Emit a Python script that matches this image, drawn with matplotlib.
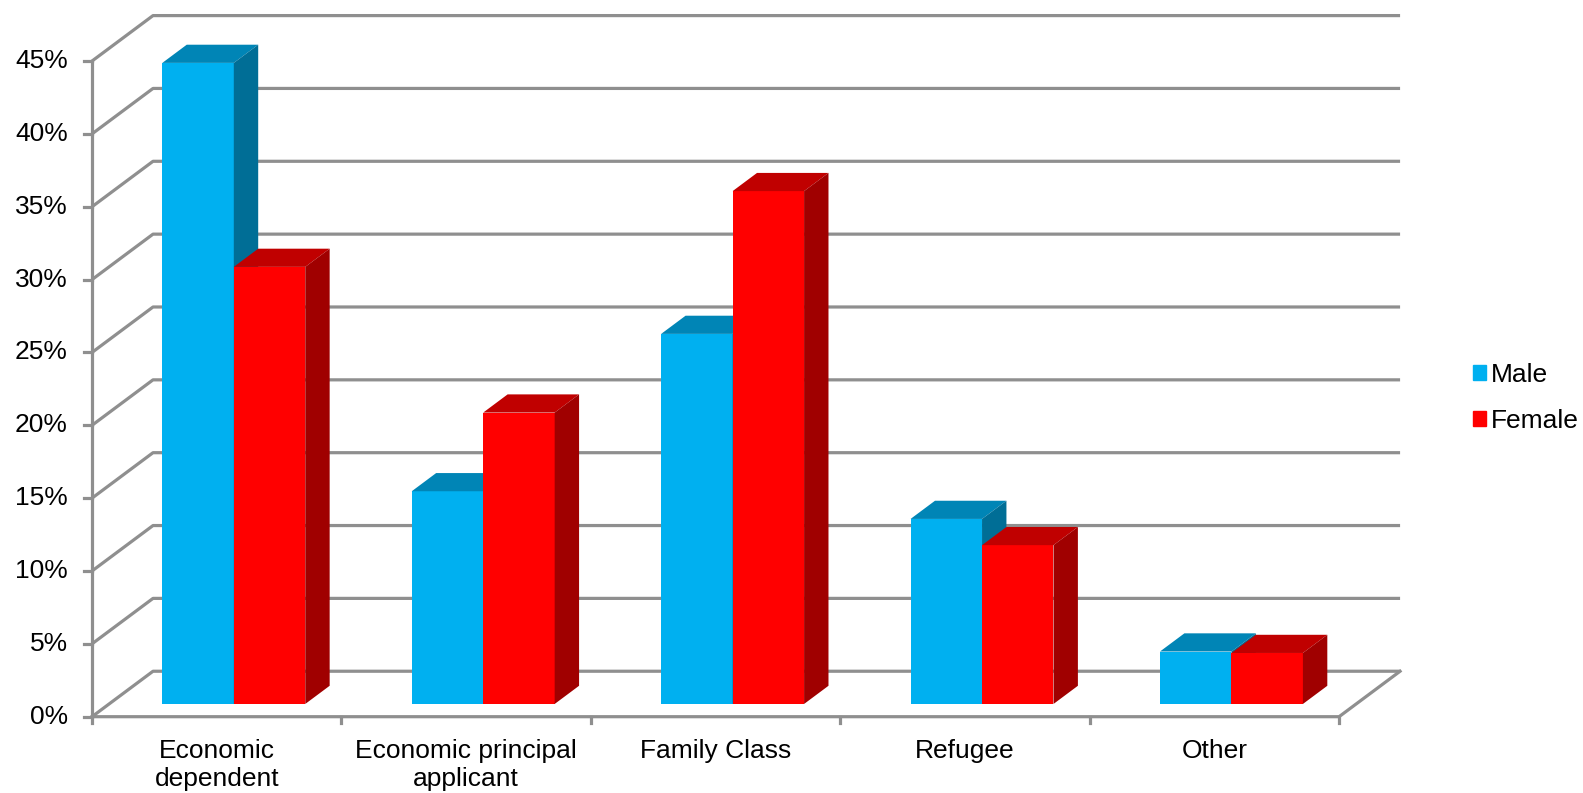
import numpy as np
import matplotlib.pyplot as plt
from matplotlib.patches import Polygon, Patch

plt.rcParams['font.family'] = ['Liberation Sans', 'DejaVu Sans']

categories = ["Economic\ndependent", "Economic principal\napplicant", "Family Class", "Refugee", "Other"]
male = [44.0, 14.6, 25.4, 12.7, 3.6]
female = [30.0, 20.0, 35.2, 10.9, 3.5]
yticks = [0, 5, 10, 15, 20, 25, 30, 35, 40, 45]

# colours: front, top, side
blue = ["#00b0f0", "#0085b6", "#006e96"]
red = ["#ff0000", "#c00000", "#a00000"]
grid_c = "#8f8f8f"

# fake 3d: wall depth offset in data units
DX = 0.2446
DY = 3.12
f0, f1 = 0.28, 0.68   # bar depth (fraction of wall depth)
w = 0.2865
fs = 19

fig = plt.figure(figsize=(15.83, 7.93), dpi=100)
ax = fig.add_axes([0, 0, 1, 1])
ax.set_xlim(-0.3689, 5.978)
ax.set_ylim(-5.237, 49.19)
ax.axis("off")

# walls / grid
for v in yticks:
    ax.plot([0, DX, 5 + DX], [v, v + DY, v + DY], color=grid_c, lw=2.3, zorder=1, solid_capstyle="butt")
    ax.plot([-0.032, 0], [v, v], color=grid_c, lw=2.3, zorder=1)
    ax.text(-0.097, v, "{}%".format(v), ha="right", va="center", fontsize=fs)
ax.plot([0, 0], [-0.45, yticks[-1]], color=grid_c, lw=2.3, zorder=1)
ax.plot([0, 5, 5 + DX], [0, 0, DY], color=grid_c, lw=2.3, zorder=1)
for i in range(1, 6):
    ax.plot([i, i], [0, -0.45], color=grid_c, lw=2.3, zorder=1)

def bar3d(x0, val, cols):
    b = f0 * DY
    ax.bar(x0, val, width=w, bottom=b, align="edge", color=cols[0], lw=0, zorder=3)
    ox, oy = (f1 - f0) * DX, (f1 - f0) * DY
    top = [(x0, b + val), (x0 + w, b + val), (x0 + w + ox, b + val + oy), (x0 + ox, b + val + oy)]
    side = [(x0 + w, b), (x0 + w + ox, b + oy), (x0 + w + ox, b + val + oy), (x0 + w, b + val)]
    ax.add_patch(Polygon(top, closed=True, fc=cols[1], lw=0, zorder=3))
    ax.add_patch(Polygon(side, closed=True, fc=cols[2], lw=0, zorder=3))

for i in range(len(categories)):
    xm = i + 0.5 - w + f0 * DX
    bar3d(xm, male[i], blue)
    bar3d(xm + w, female[i], red)
    ax.text(i + 0.5, -1.55, categories[i], ha="center", va="top", fontsize=fs, linespacing=1.22)

handles = [Patch(color=blue[0], label="Male"), Patch(color=red[0], label="Female")]
ax.legend(handles=handles, loc="center left", bbox_to_anchor=(1462 / 1583, 1 - 398 / 793),
          frameon=False, fontsize=fs, handlelength=0.5, handleheight=0.5,
          handletextpad=0.2, labelspacing=0.85, borderaxespad=0)

plt.savefig("out.png", dpi=100)
